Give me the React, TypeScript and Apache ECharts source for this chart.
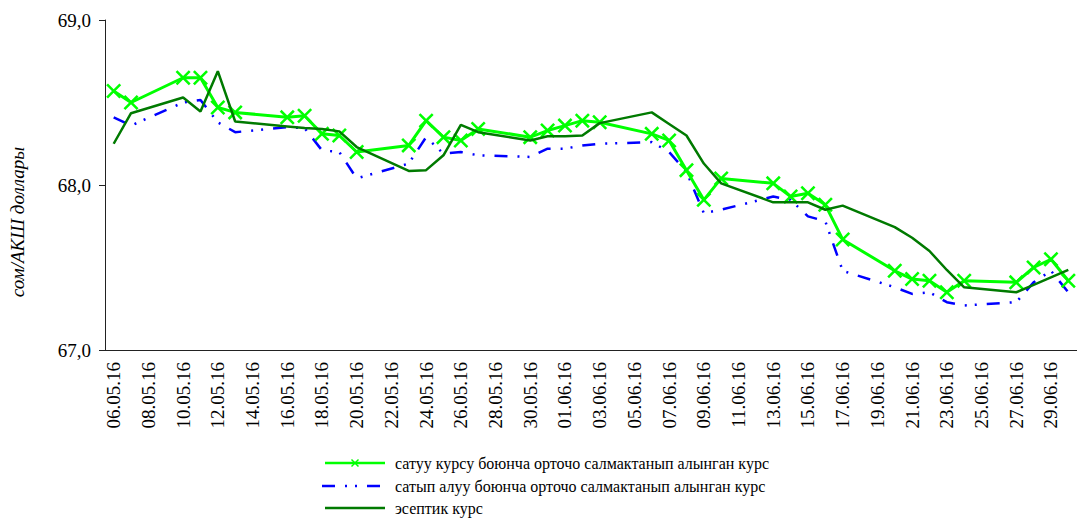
import React, { useEffect, useRef } from "react";
import * as echarts from "echarts";

const categories = [
  "06.05.16","07.05.16","08.05.16","09.05.16","10.05.16","11.05.16","12.05.16","13.05.16","14.05.16","15.05.16",
  "16.05.16","17.05.16","18.05.16","19.05.16","20.05.16","21.05.16","22.05.16","23.05.16","24.05.16","25.05.16",
  "26.05.16","27.05.16","28.05.16","29.05.16","30.05.16","31.05.16","01.06.16","02.06.16","03.06.16","04.06.16",
  "05.06.16","06.06.16","07.06.16","08.06.16","09.06.16","10.06.16","11.06.16","12.06.16","13.06.16","14.06.16",
  "15.06.16","16.06.16","17.06.16","18.06.16","19.06.16","20.06.16","21.06.16","22.06.16","23.06.16","24.06.16",
  "25.06.16","26.06.16","27.06.16","28.06.16","29.06.16","30.06.16",
];

// observation dates (working days)
const obsDates = [
  "06.05.16","07.05.16","10.05.16","11.05.16","12.05.16","13.05.16","16.05.16","17.05.16","18.05.16","19.05.16",
  "20.05.16","23.05.16","24.05.16","25.05.16","26.05.16","27.05.16","30.05.16","31.05.16","01.06.16","02.06.16",
  "03.06.16","06.06.16","07.06.16","08.06.16","09.06.16","10.06.16","13.06.16","14.06.16","15.06.16","16.06.16",
  "17.06.16","20.06.16","21.06.16","22.06.16","23.06.16","24.06.16","27.06.16","28.06.16","29.06.16","30.06.16",
];
const sellRate = [
  68.57, 68.50, 68.65, 68.65, 68.47, 68.44, 68.41, 68.42, 68.31, 68.30,
  68.20, 68.24, 68.39, 68.29, 68.27, 68.34, 68.29, 68.33, 68.36, 68.39,
  68.38, 68.31, 68.27, 68.09, 67.91, 68.04, 68.01, 67.93, 67.95, 67.88,
  67.67, 67.48, 67.43, 67.42, 67.35, 67.42, 67.41, 67.50, 67.55, 67.42,
];
const buyRate = [
  68.41, 68.36, 68.50, 68.515, 68.38, 68.32, 68.35, 68.345, 68.21, 68.20,
  68.04, 68.13, 68.29, 68.19, 68.20, 68.18, 68.17, 68.22, 68.22, 68.24,
  68.25, 68.26, 68.20, 68.08, 67.83, 67.85, 67.93, 67.91, 67.81, 67.78,
  67.48, 67.38, 67.34, 67.35, 67.29, 67.27, 67.29, 67.41, 67.48, 67.35,
];
const officialRate = [
  68.25, 68.435, 68.53, 68.445, 68.69, 68.385, 68.355, 68.345, 68.34, 68.325,
  68.23, 68.085, 68.09, 68.18, 68.365, 68.32, 68.27, 68.295, 68.295, 68.30,
  68.375, 68.44, 68.37, 68.30, 68.13, 68.01, 67.895, 67.895, 67.895, 67.85,
  67.875, 67.745, 67.68, 67.60, 67.485, 67.38, 67.35, 67.395, 67.44, 67.485,
];

const seriesNames = [
  "сатуу курсу боюнча орточо салмактанып алынган курс",
  "сатып алуу боюнча орточо салмактанып алынган курс",
  "эсептик курс",
];
const yAxisTitle = "сом/АКШ доллары";

function expand(values: number[]): (number | null)[] {
  const m = new Map<string, number>();
  obsDates.forEach((d, i) => m.set(d, values[i]));
  return categories.map((c) => (m.has(c) ? (m.get(c) as number) : null));
}

const FONT = "'Liberation Serif', 'Times New Roman', serif";
const crossPath = "path://M0,1.2L1.2,0L10,8.8L8.8,10Z M8.8,0L10,1.2L1.2,10L0,8.8Z";
const GREEN = "#00ff00";
const BLUE = "#0000ff";
const DARK = "#007a00";
const BLUE_DASH = [13, 10, 2, 8, 2, 10];

function legendGraphics() {
  const rows = [463, 486, 508];
  const x0 = 325;
  const x1 = 385;
  const tx = 395;
  const els: any[] = [];
  // row 1: green line with small cross
  els.push({ type: "line", shape: { x1: x0, y1: rows[0], x2: x1, y2: rows[0] }, style: { stroke: GREEN, lineWidth: 2.5 } });
  const cx = (x0 + x1) / 2;
  const s = 3.5;
  els.push({ type: "line", shape: { x1: cx - s, y1: rows[0] - s, x2: cx + s, y2: rows[0] + s }, style: { stroke: GREEN, lineWidth: 1.5 } });
  els.push({ type: "line", shape: { x1: cx - s, y1: rows[0] + s, x2: cx + s, y2: rows[0] - s }, style: { stroke: GREEN, lineWidth: 1.5 } });
  // row 2: blue dash-dot
  els.push({ type: "line", shape: { x1: x0 - 3, y1: rows[1], x2: x1, y2: rows[1] }, style: { stroke: BLUE, lineWidth: 2.5, lineDash: BLUE_DASH } });
  // row 3: dark green
  els.push({ type: "line", shape: { x1: x0, y1: rows[2], x2: x1, y2: rows[2] }, style: { stroke: DARK, lineWidth: 2.5 } });
  seriesNames.forEach((name, i) => {
    els.push({
      type: "text",
      x: tx,
      y: rows[i],
      style: { text: name, fontFamily: FONT, fontSize: 16, fill: "#000", align: "left", verticalAlign: "middle" },
    });
  });
  return els;
}

export default function App() {
  const ref = useRef<HTMLDivElement>(null);
  useEffect(() => {
    if (!ref.current) return;
    const chart = echarts.init(ref.current, undefined, { renderer: "svg" });
    chart.setOption({
      animation: false,
      backgroundColor: "#ffffff",
      grid: { left: 105, right: -3, top: 20, bottom: 168, containLabel: false },
      xAxis: {
        type: "category",
        data: categories,
        boundaryGap: true,
        axisLine: { lineStyle: { color: "#222", width: 1 } },
        axisTick: { interval: 1, length: 6, lineStyle: { color: "#222" } },
        axisLabel: {
          interval: 1,
          rotate: 90,
          fontFamily: FONT,
          fontSize: 19,
          color: "#000",
          margin: 12,
        },
        splitLine: { show: false },
      },
      yAxis: {
        type: "value",
        min: 67,
        max: 69,
        interval: 1,
        axisLine: { show: true, lineStyle: { color: "#222", width: 1 } },
        axisTick: { show: true, length: 6, lineStyle: { color: "#222" } },
        axisLabel: {
          fontFamily: FONT,
          fontSize: 19,
          color: "#000",
          margin: 14,
          formatter: (v: number) => v.toFixed(1).replace(".", ","),
        },
        splitLine: { show: false },
      },
      graphic: [
        {
          type: "text",
          x: 17,
          y: 222,
          rotation: Math.PI / 2,
          style: {
            text: yAxisTitle,
            fontFamily: FONT,
            fontSize: 19,
            fontStyle: "italic",
            fill: "#000",
            align: "center",
            verticalAlign: "middle",
          },
        },
        ...legendGraphics(),
      ],
      series: [
        {
          name: seriesNames[0],
          type: "line",
          data: expand(sellRate),
          connectNulls: true,
          symbol: crossPath,
          symbolSize: 15,
          showAllSymbol: true,
          lineStyle: { color: GREEN, width: 3 },
          itemStyle: { color: GREEN },
          z: 3,
        },
        {
          name: seriesNames[1],
          type: "line",
          data: expand(buyRate),
          connectNulls: true,
          symbol: "none",
          lineStyle: { color: BLUE, width: 2.5, type: BLUE_DASH },
          itemStyle: { color: BLUE },
          z: 2,
        },
        {
          name: seriesNames[2],
          type: "line",
          data: expand(officialRate),
          connectNulls: true,
          symbol: "none",
          lineStyle: { color: DARK, width: 2.5 },
          itemStyle: { color: DARK },
          z: 4,
        },
      ],
    });
    return () => chart.dispose();
  }, []);
  return (
    <div
      ref={ref}
      style={{ position: "fixed", left: 0, top: 0, width: 1077, height: 518, background: "#fff" }}
    />
  );
}
